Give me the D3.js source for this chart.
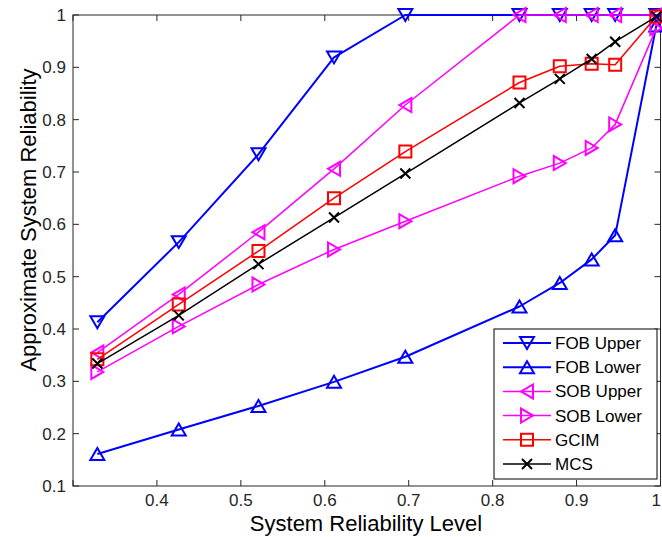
<!DOCTYPE html>
<html><head><meta charset="utf-8">
<script src="https://cdn.jsdelivr.net/npm/d3@7"></script>
<style>body{margin:0;background:#fff}svg{display:block;font-family:"Liberation Sans",Arial,sans-serif}</style>
</head><body><svg id="c" width="662" height="537"></svg>
<script>
const xLevels = [0.329, 0.426, 0.521, 0.611, 0.696, 0.832, 0.880, 0.918, 0.946, 0.995];
const fobUpper = [0.413, 0.566, 0.734, 0.919, 1, 1, 1, 1, 1, 1];
const fobLower = [0.161, 0.208, 0.253, 0.299, 0.347, 0.443, 0.488, 0.533, 0.579, 0.98];
const sobUpper = [0.355, 0.466, 0.585, 0.706, 0.828, 1, 1, 1, 1, 1];
const sobLower = [0.318, 0.405, 0.485, 0.552, 0.606, 0.692, 0.717, 0.746, 0.791, 0.975];
const gcim = [0.342, 0.447, 0.549, 0.650, 0.739, 0.871, 0.902, 0.907, 0.905, 0.997];
const mcs = [0.334, 0.426, 0.524, 0.613, 0.697, 0.832, 0.878, 0.916, 0.949, 0.997];
const seriesNames = ["FOB Upper", "FOB Lower", "SOB Upper", "SOB Lower", "GCIM", "MCS"];
const xTicks = [0.3, 0.4, 0.5, 0.6, 0.7, 0.8, 0.9, 1];
const yTicks = [0.1, 0.2, 0.3, 0.4, 0.5, 0.6, 0.7, 0.8, 0.9, 1];
const xTitle = "System Reliability Level";
const yTitle = "Approximate System Reliability";

const series = [
  {name: seriesNames[0], vals: fobUpper, color: "#0000ff", marker: "tdown", w: 2},
  {name: seriesNames[1], vals: fobLower, color: "#0000ff", marker: "tup", w: 2},
  {name: seriesNames[2], vals: sobUpper, color: "#ff00ff", marker: "tleft", w: 1.5},
  {name: seriesNames[3], vals: sobLower, color: "#ff00ff", marker: "tright", w: 1.5},
  {name: seriesNames[4], vals: gcim, color: "#ff0000", marker: "square", w: 1.5},
  {name: seriesNames[5], vals: mcs, color: "#000000", marker: "x", w: 1.5}
];

const svg = d3.select("#c");
const L = 73, R = 660.5, T = 15, B = 486;
const x = d3.scaleLinear().domain([0.3, 1]).range([L, R]);
const y = d3.scaleLinear().domain([0.1, 1]).range([B, T]);

// box
svg.append("rect").attr("x", L).attr("y", T).attr("width", R - L).attr("height", B - T)
  .attr("fill", "none").attr("stroke", "#262626").attr("stroke-width", 1);

const tl = 6;
const g = svg.append("g").attr("stroke", "#262626").attr("stroke-width", 1);
xTicks.forEach(t => {
  const px = x(t);
  g.append("line").attr("x1", px).attr("x2", px).attr("y1", B).attr("y2", B - tl);
  g.append("line").attr("x1", px).attr("x2", px).attr("y1", T).attr("y2", T + tl);
});
yTicks.forEach(t => {
  const py = y(t);
  g.append("line").attr("x1", L).attr("x2", L + tl).attr("y1", py).attr("y2", py);
  g.append("line").attr("x1", R).attr("x2", R - tl).attr("y1", py).attr("y2", py);
});

const fmt = v => (Math.round(v * 10) / 10).toString();
xTicks.filter(t => t > 0.35).forEach(t => {
  const last = t === 1;
  svg.append("text").attr("x", last ? 661 : x(t)).attr("y", 506)
    .attr("text-anchor", last ? "end" : "middle")
    .attr("font-size", 17).attr("fill", "#262626").text(fmt(t));
});
yTicks.forEach(t => {
  svg.append("text").attr("x", 66).attr("y", y(t) + 6).attr("text-anchor", "end")
    .attr("font-size", 17).attr("fill", "#262626").text(fmt(t));
});

svg.append("text").attr("x", 366).attr("y", 531).attr("text-anchor", "middle")
  .attr("font-size", 22).attr("fill", "#000").text(xTitle);
svg.append("text").attr("transform", "translate(36,220) rotate(-90)").attr("text-anchor", "middle")
  .attr("font-size", 22).attr("fill", "#000").text(yTitle);

function markerPath(type) {
  const h = 7, s = 6, k = 5;
  switch (type) {
    case "tdown": return `M${-h},${-s}L${h},${-s}L0,${s}Z`;
    case "tup": return `M${-h},${s}L${h},${s}L0,${-s}Z`;
    case "tleft": return `M${s},${-h}L${s},${h}L${-s},0Z`;
    case "tright": return `M${-s},${-h}L${-s},${h}L${s},0Z`;
    case "square": return `M-6,-6L6,-6L6,6L-6,6Z`;
    case "x": return `M${-k},${-k}L${k},${k}M${-k},${k}L${k},${-k}`;
  }
}

const line = d3.line().x(d => x(d[0])).y(d => y(d[1]));
series.forEach(s => {
  const pts = xLevels.map((xv, i) => [xv, s.vals[i]]);
  const sg = svg.append("g");
  sg.append("path").attr("d", line(pts)).attr("fill", "none").attr("stroke", s.color)
    .attr("stroke-width", s.w).attr("stroke-linejoin", "round");
  pts.forEach(p => {
    sg.append("path").attr("d", markerPath(s.marker))
      .attr("transform", `translate(${x(p[0])},${y(p[1])})`)
      .attr("fill", "none").attr("stroke", s.color).attr("stroke-width", 2);
  });
});

// legend
const lg = svg.append("g");
lg.append("rect").attr("x", 494).attr("y", 329).attr("width", 163).attr("height", 150)
  .attr("fill", "#fff").attr("stroke", "#000").attr("stroke-width", 1);
series.forEach((s, i) => {
  const cy = 343 + i * 24.2;
  lg.append("line").attr("x1", 503).attr("x2", 551).attr("y1", cy).attr("y2", cy)
    .attr("stroke", s.color).attr("stroke-width", s.w);
  lg.append("path").attr("d", markerPath(s.marker)).attr("transform", `translate(527,${cy})`)
    .attr("fill", "none").attr("stroke", s.color).attr("stroke-width", 2);
  lg.append("text").attr("x", 555).attr("y", cy + 6).attr("font-size", 17).attr("fill", "#000").text(s.name);
});
</script></body></html>
